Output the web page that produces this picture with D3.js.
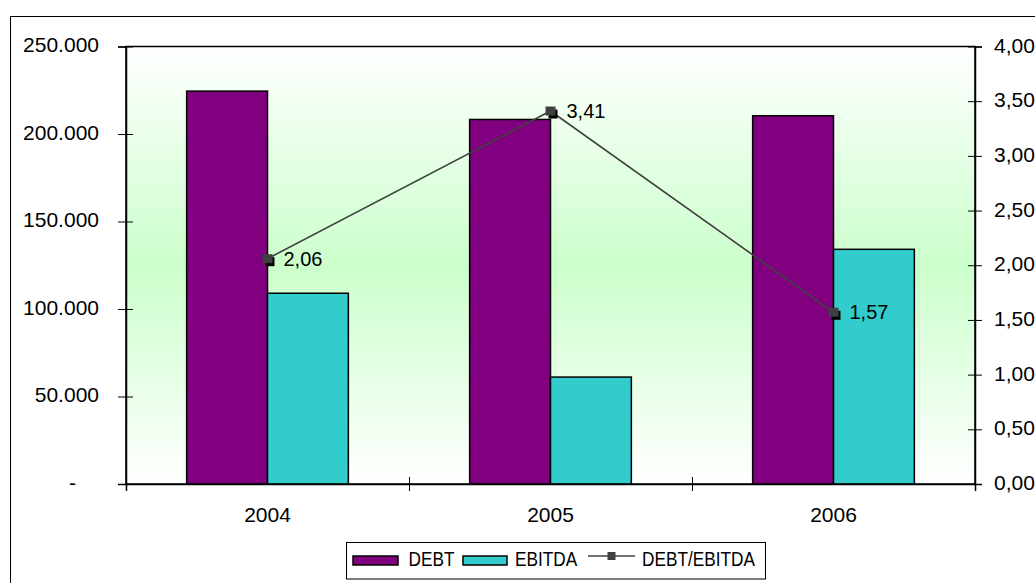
<!DOCTYPE html>
<html>
<head>
<meta charset="utf-8">
<script src="https://cdn.jsdelivr.net/npm/d3@7"></script>
<style>
  html, body { margin: 0; padding: 0; background: #fff; }
  svg { display: block; font-family: "Liberation Sans", Arial, sans-serif; }
</style>
</head>
<body>
<svg id="chart" width="1035" height="583"></svg>
<script>
// Yearly debt, EBITDA and leverage ratio
const years = ["2004", "2005", "2006"];
const debt = [224500, 208300, 210400];
const ebitda = [109000, 61100, 134100];
const ratio = [2.06, 3.41, 1.57];
const leftTicks = [0, 50000, 100000, 150000, 200000, 250000];
const rightTicks = [0, 0.5, 1, 1.5, 2, 2.5, 3, 3.5, 4];
const seriesNames = ["DEBT", "EBITDA", "DEBT/EBITDA"];

const colors = { debt: "#800080", ebitda: "#33cccc", line: "#404040" };
const FONT = "'Liberation Sans', Arial, sans-serif";

const svg = d3.select("#chart");
const W = 1035, H = 583;
const plot = { left: 126, right: 975, top: 46.5, bottom: 484 };

const deFmt = d3.formatLocale({ decimal: ",", thousands: ".", grouping: [3], currency: ["", ""] });
const fmtThousands = deFmt.format(",.0f");
const fmtRatio = deFmt.format(".2f");

// outer chart frame
svg.append("rect")
  .attr("x", 10.5).attr("y", 16.5)
  .attr("width", W).attr("height", H)
  .attr("fill", "#fff").attr("stroke", "#000").attr("stroke-width", 1);

// plot background gradient
const defs = svg.append("defs");
const grad = defs.append("linearGradient").attr("id", "bg")
  .attr("x1", 0).attr("y1", 0).attr("x2", 0).attr("y2", 1);
grad.append("stop").attr("offset", "0%").attr("stop-color", "#ffffff");
grad.append("stop").attr("offset", "50%").attr("stop-color", "#ccffcc");
grad.append("stop").attr("offset", "100%").attr("stop-color", "#ffffff");

svg.append("rect")
  .attr("x", plot.left).attr("y", plot.top)
  .attr("width", plot.right - plot.left).attr("height", plot.bottom - plot.top)
  .attr("fill", "url(#bg)").attr("stroke", "#000").attr("stroke-width", 1.5);

// scales
const x = d3.scaleBand().domain(years).range([plot.left, plot.right]).paddingInner(0).paddingOuter(0);
const inner = d3.scaleBand().domain(["debt", "ebitda"]).range([0, x.bandwidth()]).paddingInner(0).paddingOuter(0.75);
const yL = d3.scaleLinear().domain([0, 250000]).range([plot.bottom, plot.top]);
const yR = d3.scaleLinear().domain([0, 4]).range([plot.bottom, plot.top]);

// bars
const barData = years.map((yr, i) => [
  { yr, key: "debt", v: debt[i] },
  { yr, key: "ebitda", v: ebitda[i] }
]).flat();

svg.append("g").selectAll("rect").data(barData).join("rect")
  .attr("x", d => x(d.yr) + inner(d.key))
  .attr("y", d => yL(d.v))
  .attr("width", inner.bandwidth())
  .attr("height", d => yL(0) - yL(d.v))
  .attr("fill", d => colors[d.key])
  .attr("stroke", "#000").attr("stroke-width", 1.5);

// left axis
const gL = svg.append("g").attr("transform", `translate(${plot.left},0)`)
  .call(d3.axisLeft(yL).tickValues(leftTicks).tickSize(8).tickPadding(19)
    .tickFormat(d => d === 0 ? "-" : fmtThousands(d)));
gL.attr("font-family", FONT);
gL.select(".domain").attr("stroke", "#000").attr("stroke-width", 1.5);
gL.selectAll(".tick line").attr("x1", 7).attr("stroke", "#000");
gL.selectAll(".tick text").attr("font-size", 21).attr("fill", "#000").attr("dy", "0.26em");
gL.selectAll(".tick text").filter(d => d === 0).attr("dx", -23);

// right axis
const gR = svg.append("g").attr("transform", `translate(${plot.right},0)`)
  .call(d3.axisRight(yR).tickValues(rightTicks).tickSize(7).tickPadding(12).tickFormat(fmtRatio));
gR.attr("font-family", FONT);
gR.select(".domain").attr("stroke", "#000").attr("stroke-width", 1.5);
gR.selectAll(".tick line").attr("x1", -7).attr("stroke", "#000");
gR.selectAll(".tick text").attr("font-size", 21).attr("fill", "#000").attr("dy", "0.27em");

// bottom axis: boundary ticks and centred year labels
const xb = d3.scaleLinear().domain([0, years.length]).range([plot.left, plot.right]);
const gB = svg.append("g").attr("transform", `translate(0,${plot.bottom})`)
  .call(d3.axisBottom(xb).tickValues(d3.range(years.length + 1)).tickSize(7).tickFormat(""));
gB.select(".domain").attr("stroke", "#000").attr("stroke-width", 1.5);
gB.selectAll(".tick line").attr("y1", -7).attr("stroke", "#000");

const gBL = svg.append("g").attr("transform", `translate(0,${plot.bottom})`)
  .call(d3.axisBottom(x).tickSize(0).tickPadding(23));
gBL.attr("font-family", FONT);
gBL.select(".domain").remove();
gBL.selectAll(".tick text").attr("font-size", 21).attr("fill", "#000");

// ratio line
const pts = years.map((yr, i) => ({ yr, v: ratio[i], cx: x(yr) + x.bandwidth() / 2, cy: yR(ratio[i]) }));
svg.append("path")
  .datum(pts)
  .attr("d", d3.line().x(d => d.cx).y(d => d.cy))
  .attr("fill", "none").attr("stroke", colors.line).attr("stroke-width", 1.6);

const mk = svg.append("g").selectAll("g").data(pts).join("g")
  .attr("transform", d => `translate(${d.cx},${d.cy})`);
mk.append("rect").attr("x", -2).attr("y", -1.5).attr("width", 9).attr("height", 9).attr("fill", "#000");
mk.append("rect").attr("x", -5).attr("y", -4.5).attr("width", 10).attr("height", 9).attr("fill", colors.line);
mk.append("text")
  .attr("x", 16).attr("y", 0).attr("dy", "0.34em")
  .attr("font-family", FONT).attr("font-size", 20).attr("fill", "#000")
  .text(d => fmtRatio(d.v));

// legend
const lg = svg.append("g");
lg.append("rect")
  .attr("x", 346.5).attr("y", 542.5).attr("width", 419).attr("height", 36.5)
  .attr("fill", "#fff").attr("stroke", "#000").attr("stroke-width", 1);

const ly = 560.5;
lg.append("rect").attr("x", 353).attr("y", ly - 4.5).attr("width", 45).attr("height", 9)
  .attr("fill", colors.debt).attr("stroke", "#000").attr("stroke-width", 1.5);
lg.append("rect").attr("x", 463).attr("y", ly - 4.5).attr("width", 44).attr("height", 9)
  .attr("fill", colors.ebitda).attr("stroke", "#000").attr("stroke-width", 1.5);
lg.append("line").attr("x1", 588).attr("x2", 635).attr("y1", ly - 4.5).attr("y2", ly - 4.5)
  .attr("stroke", colors.line).attr("stroke-width", 1.6);
lg.append("rect").attr("x", 607.5).attr("y", ly - 8.5).attr("width", 8).attr("height", 8).attr("fill", colors.line);

const legendText = [
  { t: seriesNames[0], x: 408.5 },
  { t: seriesNames[1], x: 515 },
  { t: seriesNames[2], x: 642 }
];
// legend labels are set in a condensed width
const lt = lg.selectAll("text.lt").data(legendText).join("text")
  .attr("class", "lt")
  .attr("x", d => d.x).attr("y", 566)
  .attr("font-family", FONT).attr("font-size", 21).attr("fill", "#000")
  .text(d => d.t);
lt.each(function () {
  const w = this.getComputedTextLength();
  d3.select(this).attr("textLength", w * 0.82).attr("lengthAdjust", "spacingAndGlyphs");
});
</script>
</body>
</html>
